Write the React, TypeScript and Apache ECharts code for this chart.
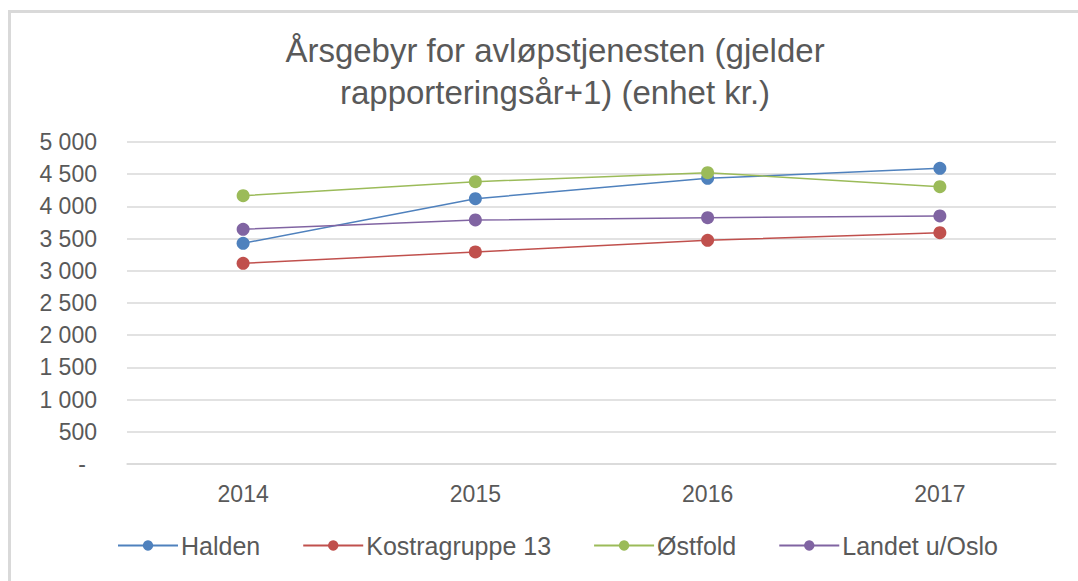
import React, { useEffect, useRef } from "react";
import * as echarts from "echarts";

const titleText = "Årsgebyr for avløpstjenesten (gjelder\nrapporteringsår+1) (enhet kr.)";
const years = ["2014", "2015", "2016", "2017"];
const halden = [3427, 4120, 4436, 4592];
const kostragruppe13 = [3116, 3292, 3474, 3592];
const ostfold = [4166, 4384, 4523, 4306];
const landet = [3645, 3789, 3825, 3851];
const seriesNames = ["Halden", "Kostragruppe 13", "Østfold", "Landet u/Oslo"];
const seriesColors = ["#4f81bd", "#c0504d", "#9bbb59", "#8064a2"];
const yMin = 0;
const yMax = 5000;
const yStep = 500;

const FONT = "'Liberation Sans', Arial, sans-serif";
const GREY = "#595959";

function fmt(v: number): string {
  if (v === 0) return "{d|-}";
  const s = String(v);
  return s.length > 3 ? s.slice(0, s.length - 3) + "\u00a0" + s.slice(-3) : s;
}

export default function App() {
  const ref = useRef<HTMLDivElement>(null);
  useEffect(() => {
    document.body.style.margin = "0";
    const chart = echarts.init(ref.current!, null, { renderer: "svg" });
    const data = [halden, kostragruppe13, ostfold, landet];
    chart.setOption({
      animation: false,
      backgroundColor: "#ffffff",
      title: {
        text: titleText,
        left: 550,
        textAlign: "center",
        top: 24,
        textStyle: {
          fontFamily: FONT,
          fontSize: 33,
          fontWeight: "normal",
          color: GREY,
          lineHeight: 42,
        },
      },
      graphic: [
        { type: "rect", shape: { x: 8, y: 10, width: 1070, height: 3 }, style: { fill: "#d9d9d9" } },
        { type: "rect", shape: { x: 8, y: 10, width: 3, height: 571 }, style: { fill: "#d9d9d9" } },
      ],
      grid: { left: 127, right: 22, top: 142, bottom: 117 },
      xAxis: {
        type: "category",
        data: years,
        boundaryGap: true,
        axisLine: { show: true, lineStyle: { color: "#d9d9d9", width: 1.5 } },
        axisTick: { show: false },
        axisLabel: { color: GREY, fontFamily: FONT, fontSize: 23, margin: 18 },
      },
      yAxis: {
        type: "value",
        min: yMin,
        max: yMax,
        interval: yStep,
        axisLine: { show: false },
        axisTick: { show: false },
        splitLine: { lineStyle: { color: "#d9d9d9", width: 1.5 } },
        axisLabel: {
          color: GREY,
          fontFamily: FONT,
          fontSize: 23,
          margin: 30,
          formatter: (v: number) => fmt(v),
          rich: { d: { color: GREY, fontFamily: FONT, fontSize: 23, padding: [0, 11, 0, 0] } },
        },
      },
      legend: {
        bottom: 18,
        left: 112,
        itemWidth: 60,
        itemHeight: 13,
        itemGap: 42,
        textStyle: { color: GREY, fontFamily: FONT, fontSize: 25, padding: [0, 0, 0, -2] },
        data: seriesNames,
      },
      series: seriesNames.map((name, i) => ({
        name,
        type: "line",
        data: data[i],
        symbol: "circle",
        symbolSize: 13,
        color: seriesColors[i],
        lineStyle: { width: 1.5, color: seriesColors[i] },
        itemStyle: { color: seriesColors[i] },
      })),
    });
    return () => chart.dispose();
  }, []);
  return <div ref={ref} style={{ width: 1078, height: 581 }} />;
}
